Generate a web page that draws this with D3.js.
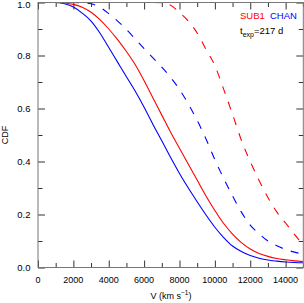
<!DOCTYPE html>
<html><head><meta charset="utf-8">
<script src="https://cdn.jsdelivr.net/npm/d3@7"></script>
<style>html,body{margin:0;padding:0;background:#fff;}svg{display:block;}text{font-family:"Liberation Sans",Arial,Helvetica,sans-serif;}</style>
</head><body>
<script>
const velocity = [0,1000,1500,2000,2500,3000,3500,4000,4500,5000,5500,6000,6500,7000,7500,8000,8500,9000,9500,10000,10500,11000,11500,12000,12500,13000,13500,14000,14500,15000];
const sub1Solid = [1,1,0.998,0.993,0.982,0.963,0.935,0.90,0.86,0.815,0.765,0.705,0.64,0.575,0.51,0.45,0.39,0.33,0.27,0.215,0.166,0.126,0.094,0.07,0.053,0.042,0.034,0.029,0.025,0.022];
const chanSolid = [1,1,0.995,0.983,0.96,0.93,0.885,0.83,0.775,0.72,0.665,0.605,0.54,0.478,0.415,0.355,0.30,0.248,0.198,0.152,0.113,0.081,0.06,0.045,0.035,0.028,0.024,0.021,0.019,0.018];
const chanDashed = [1,1,1,1,0.999,0.995,0.982,0.958,0.93,0.898,0.862,0.826,0.791,0.756,0.717,0.672,0.617,0.555,0.485,0.407,0.336,0.27,0.209,0.16,0.127,0.1,0.082,0.068,0.058,0.05];
const sub1Dashed = [1,1,1,1,1,1,1,1,1,1,1,1,1,0.999,0.99,0.962,0.93,0.885,0.823,0.762,0.672,0.578,0.48,0.40,0.328,0.264,0.21,0.168,0.125,0.085];
const xMajorTicks = [0,2000,4000,6000,8000,10000,12000,14000];
const xMinorTicks = [1000,3000,5000,7000,9000,11000,13000,15000];
const yMajorTicks = [0,0.2,0.4,0.6,0.8,1.0];
const yMinorTicks = [0.1,0.3,0.5,0.7,0.9];

const W=304,H=303;
const svg=d3.select("body").append("svg").attr("width",W).attr("height",H);
const x=d3.scaleLinear().domain([0,15000]).range([38,303.3]);
const y=d3.scaleLinear().domain([0,1]).range([267.5,2.5]);

svg.append("defs").append("clipPath").attr("id","clip").append("rect")
  .attr("x",38).attr("y",2.5).attr("width",265.3).attr("height",265);

const series=[
  {v:chanSolid,c:"#0000ff",d:null},
  {v:sub1Solid,c:"#ff0000",d:null},
  {v:chanDashed,c:"#0000ff",d:"8,8.5"},
  {v:sub1Dashed,c:"#ff0000",d:"8,8.5"}
];
const line=d3.line().x((d,i)=>x(velocity[i])).y(d=>y(d)).curve(d3.curveMonotoneX);
const g=svg.append("g").attr("clip-path","url(#clip)");
series.forEach(s=>{
  g.append("path").attr("d",line(s.v)).attr("fill","none").attr("stroke",s.c)
   .attr("stroke-width",1.1).attr("stroke-dasharray",s.d);
});

// axes
const tc="#333";
function axis(gen,scale,ticks,len,transform){
  const a=svg.append("g").attr("transform",transform)
    .call(gen(scale).tickValues(ticks).tickSize(len).tickFormat(""));
  a.select(".domain").remove();
  a.selectAll("line").attr("stroke",tc);
  return a;
}
axis(d3.axisBottom,x,xMajorTicks,-7,"translate(0,267.5)");
axis(d3.axisBottom,x,xMinorTicks,-4.5,"translate(0,267.5)");
axis(d3.axisTop,x,xMajorTicks,-7,"translate(0,2.5)");
axis(d3.axisTop,x,xMinorTicks,-4.5,"translate(0,2.5)");
axis(d3.axisLeft,y,yMajorTicks,-7,"translate(38,0)");
axis(d3.axisLeft,y,yMinorTicks,-4.5,"translate(38,0)");
axis(d3.axisRight,y,yMajorTicks,-7,"translate(303.3,0)");
axis(d3.axisRight,y,yMinorTicks,-4.5,"translate(303.3,0)");

svg.append("rect").attr("x",38).attr("y",2.5).attr("width",265.3).attr("height",265)
  .attr("fill","none").attr("stroke","#777").attr("stroke-width",1);

// tick labels
svg.append("g").selectAll("text").data(xMajorTicks).join("text")
  .attr("x",d=>x(d)).attr("y",283).attr("text-anchor","middle")
  .attr("font-size",9).attr("fill","#000").text(d=>d);
svg.append("g").selectAll("text").data(yMajorTicks).join("text")
  .attr("x",30.5).attr("y",d=>Math.max(y(d)+3.2,7.5)).attr("text-anchor","end")
  .attr("font-size",9.5).attr("fill","#000").text(d=>d.toFixed(1));

// axis titles
const xt=svg.append("text").attr("x",171).attr("y",298.5).attr("text-anchor","middle")
  .attr("font-size",9).attr("fill","#000");
xt.append("tspan").text("V (km s");
xt.append("tspan").attr("dy",-3.5).attr("font-size",6.5).text("\u22121");
xt.append("tspan").attr("dy",3.5).text(")");
svg.append("text").attr("transform","translate(8,135) rotate(-90)").attr("text-anchor","middle")
  .attr("font-size",9).attr("fill","#000").text("CDF");

// legend
svg.append("text").attr("x",240).attr("y",18.5).attr("font-size",9.5).attr("fill","#ff0000").text("SUB1");
svg.append("text").attr("x",270).attr("y",18.5).attr("font-size",9.5).attr("fill","#0000ff").text("CHAN");
const tt=svg.append("text").attr("x",240).attr("y",33.5).attr("font-size",9.5).attr("fill","#000");
tt.append("tspan").text("t");
tt.append("tspan").attr("dy",3).attr("font-size",7).text("exp");
tt.append("tspan").attr("dy",-3).text("=217 d");
</script>
</body></html>
